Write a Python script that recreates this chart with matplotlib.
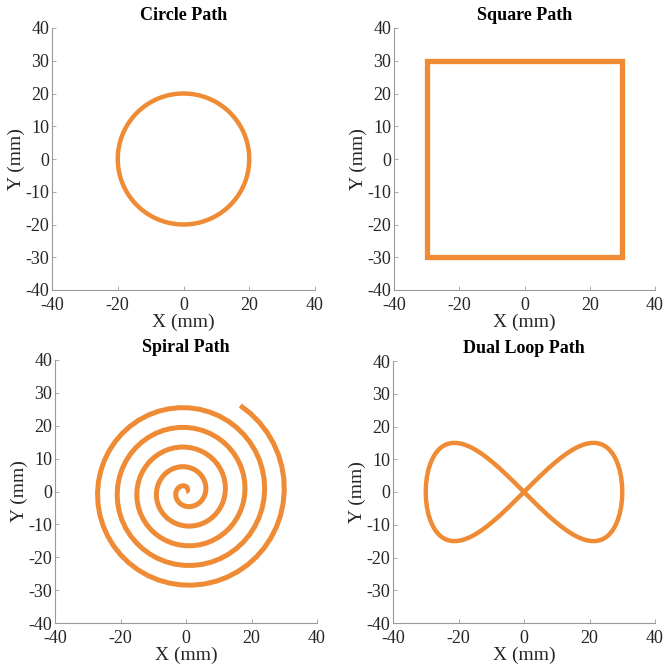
import numpy as np
import matplotlib
matplotlib.use("Agg")
import matplotlib.pyplot as plt

plt.rcParams['font.family'] = ['Liberation Serif', 'DejaVu Serif']
plt.rcParams['axes.unicode_minus'] = False

# ---- data ----
titles = ["Circle Path", "Square Path", "Spiral Path", "Dual Loop Path"]
axis_ticks = [-40, -20, 0, 20, 40]
y_ticks = [-40, -30, -20, -10, 0, 10, 20, 30, 40]

circle_radius = 20.0
circle_center = (0.0, 0.0)

square_x = [0, 30, 30, -30, -30, 0]
square_y = [30, 30, -30, -30, 30, 30]

spiral_mm_per_turn = 6.0      # radial spacing between turns
spiral_turns = 5.16           # total angle / 2pi
spiral_samples = 260

loop_x_amp = 30.0             # half-width of figure eight
loop_y_amp = 15.0             # peak height of lobes

color = '#EF8B35'

# ---- build paths ----
t = np.linspace(0, 2 * np.pi, 400)
circ_x = circle_center[0] + circle_radius * np.cos(t)
circ_y = circle_center[1] + circle_radius * np.sin(t)

th = np.linspace(0, 2 * np.pi * spiral_turns, spiral_samples)
r = spiral_mm_per_turn / (2 * np.pi) * th
sp_x = r * np.cos(th)
sp_y = r * np.sin(th)

lx = loop_x_amp * np.cos(t)
ly = loop_y_amp * np.sin(2 * t)

paths = [(circ_x, circ_y, 3.2), (square_x, square_y, 3.8),
         (sp_x, sp_y, 3.6), (lx, ly, 3.2)]

fig = plt.figure(figsize=(6.64, 6.64), dpi=100)
W = H = 664.0
boxes = [(52, 315, 28, 290), (394, 655, 28, 290),
         (55, 317, 360, 623), (393, 655, 361, 623)]

for (l, rr, tp, bt), title, (px, py, lw) in zip(boxes, titles, paths):
    ax = fig.add_axes([l / W, (H - bt) / H, (rr - l) / W, (bt - tp) / H])
    ax.plot(px, py, color=color, lw=lw, solid_joinstyle='miter', solid_capstyle='butt')
    ax.set_xlim(-40, 40)
    ax.set_ylim(-40, 40)
    ax.set_xticks(axis_ticks)
    ax.set_yticks(y_ticks)
    for s in ['top', 'right']:
        ax.spines[s].set_visible(False)
    for s in ['left', 'bottom']:
        ax.spines[s].set_color('#9a9a9a')
        ax.spines[s].set_linewidth(0.8)
    ax.tick_params(direction='in', length=3, width=0.6, color='#9a9a9a',
                   labelsize=13, labelcolor='#262626')
    ax.tick_params(axis='x', pad=5)
    ax.tick_params(axis='y', pad=2)
    ax.set_title(title, fontsize=13, fontweight='bold', pad=6)
    ax.set_xlabel('X (mm)', fontsize=14, color='#262626', labelpad=0)
    ax.set_ylabel('Y (mm)', fontsize=14, color='#262626', labelpad=0)

fig.savefig('out.png', dpi=100)
